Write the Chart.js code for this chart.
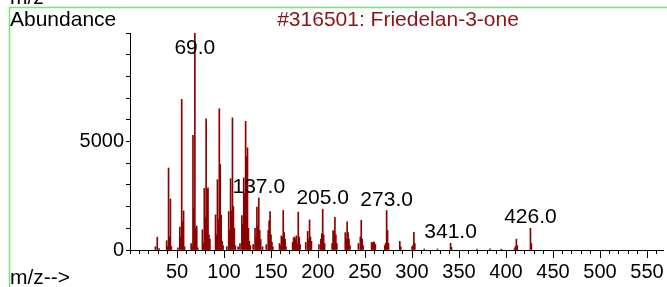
<!DOCTYPE html>
<html>
<head>
<meta charset="utf-8">
<script src="https://cdn.jsdelivr.net/npm/chart.js@4.4.1/dist/chart.umd.min.js"></script>
<style>
  html, body { margin: 0; padding: 0; background: #fff; }
  #wrap { width: 667px; height: 287px; position: relative; }
</style>
</head>
<body>
<div id="wrap"><canvas id="spectrum" width="667" height="287"></canvas></div>
<script>
const compoundTitle = '#316501: Friedelan-3-one';

// m/z values and their abundances
const mzValues = [
  27, 29, 31, 39, 40, 41, 42, 43, 44, 51, 53, 54, 55, 56, 57, 58,
  65, 66, 67, 68, 69, 70, 71, 72, 77, 78, 79, 80, 81, 82, 83, 84, 85,
  91, 92, 93, 94, 95, 96, 97, 98, 99, 103, 105, 106, 107, 108, 109, 110, 111, 112,
  115, 117, 119, 120, 121, 122, 123, 124, 125, 126, 127, 128,
  131, 133, 134, 135, 136, 137, 138, 139, 141, 145, 147, 148, 149, 150, 151, 152,
  159, 160, 161, 162, 163, 164, 165, 166, 173, 174, 175, 176, 177, 178, 179, 180, 181,
  187, 189, 190, 191, 192, 193, 201, 203, 204, 205, 206, 207,
  215, 216, 217, 218, 219, 220, 229, 230, 231, 232, 233, 234,
  243, 245, 246, 247, 248, 257, 258, 259, 260, 261, 271, 272, 273, 274, 275,
  287, 288, 300, 301, 302, 303, 313, 327, 341, 342, 369, 383, 395,
  409, 410, 411, 412, 426, 427
];
const abundances = [
  150, 590, 60, 430, 150, 3780, 600, 2350, 150, 100, 1060, 600, 6940, 1300, 1800, 150,
  300, 120, 5280, 1930, 10000, 1000, 1100, 100, 930, 300, 2840, 1500, 6050, 2800, 2870, 700, 500,
  1620, 700, 3240, 1400, 6510, 3940, 1600, 400, 200, 150, 1770, 900, 3290, 1800, 6090, 2000, 1000, 200,
  150, 300, 1590, 1200, 3320, 2600, 5930, 4300, 4710, 1000, 400, 200,
  250, 1000, 600, 1980, 1100, 2400, 900, 500, 150, 250, 900, 1350, 1770, 700, 350, 150,
  300, 200, 650, 600, 1820, 800, 500, 150, 350, 560, 600, 500, 650, 300, 1750, 600, 250,
  350, 860, 500, 1390, 600, 400, 250, 500, 750, 1880, 700, 300,
  300, 900, 850, 1500, 700, 300, 800, 500, 1300, 800, 500, 200,
  300, 600, 1370, 500, 200, 350, 300, 380, 350, 250, 200, 300, 1820, 900, 300,
  400, 150, 150, 200, 820, 300, 50, 50, 310, 120, 40, 50, 40,
  60, 150, 500, 200, 1000, 300
];
const labelledPeaks = [69, 137, 205, 273, 341, 426];
const yLabelValues = [0, 5000];
const xMinorStep = 10;
const xLabelStep = 50;

const fontFamily = '"Liberation Sans", Arial, sans-serif';

const spectrumText = {
  id: 'spectrumText',
  afterDraw(chart) {
    const { ctx, chartArea, scales: { x, y } } = chart;
    ctx.save();
    // green frame of the window
    ctx.strokeStyle = '#7fe07f';
    ctx.lineWidth = 1.5;
    ctx.beginPath();
    ctx.moveTo(9.5, 287); ctx.lineTo(9.5, 7.5); ctx.lineTo(667, 7.5);
    ctx.stroke();

    ctx.font = `21px ${fontFamily}`;
    ctx.textBaseline = 'alphabetic';
    ctx.textAlign = 'left';
    ctx.fillStyle = '#000';
    ctx.fillText('m/z', 10, 4);
    ctx.fillText('Abundance', 10, 26);
    ctx.fillText('m/z-->', 10, 284);

    ctx.fillStyle = '#8c1414';
    ctx.textAlign = 'center';
    ctx.fillText(compoundTitle, 398, 26);

    // peak labels above the marked ions
    ctx.fillStyle = '#000';
    labelledPeaks.forEach(mz => {
      const i = mzValues.indexOf(mz);
      const px = x.getPixelForValue(mz);
      const top = y.getPixelForValue(abundances[i]);
      ctx.fillText(mz.toFixed(1), px, Math.max(top - 5, chartArea.top + 21));
    });

    // longer tick marks at the labelled m/z values
    ctx.strokeStyle = '#000';
    ctx.lineWidth = 1;
    x.ticks.forEach(t => {
      if (t.value > 0 && t.value % xLabelStep === 0) {
        const px = Math.round(x.getPixelForValue(t.value)) + 0.5;
        ctx.beginPath();
        ctx.moveTo(px, chartArea.bottom);
        ctx.lineTo(px, chartArea.bottom + 8);
        ctx.stroke();
      }
    });
    ctx.restore();
  }
};

new Chart(document.getElementById('spectrum'), {
  type: 'bar',
  data: {
    datasets: [{
      data: mzValues.map((m, i) => ({ x: m, y: abundances[i] })),
      backgroundColor: '#8b0000',
      barThickness: 1,
      grouped: false
    }]
  },
  options: {
    responsive: false,
    devicePixelRatio: 1,
    animation: false,
    layout: { padding: { left: 0, right: 4, top: 33, bottom: 0 } },
    plugins: { legend: { display: false }, tooltip: { enabled: false } },
    scales: {
      x: {
        type: 'linear', min: 0, max: 567, offset: false,
        grid: { offset: false, drawOnChartArea: false, tickLength: 4, color: '#000' },
        border: { color: '#000' },
        ticks: {
          stepSize: xMinorStep, autoSkip: false, maxRotation: 0, includeBounds: false,
          padding: 6, color: '#000', font: { size: 20, family: fontFamily },
          callback: v => (v > 0 && v % xLabelStep === 0) ? v : ''
        },
        afterFit: s => { s.height = 37; }
      },
      y: {
        min: 0, max: 10000,
        grid: { drawOnChartArea: false, tickLength: 4, color: '#000' },
        border: { color: '#000' },
        ticks: {
          stepSize: 1000, autoSkip: false, padding: 2, color: '#000',
          font: { size: 20, family: fontFamily },
          callback: v => yLabelValues.includes(v) ? v : ''
        },
        afterFit: s => { s.width = 130; }
      }
    }
  },
  plugins: [spectrumText]
});
</script>
</body>
</html>
